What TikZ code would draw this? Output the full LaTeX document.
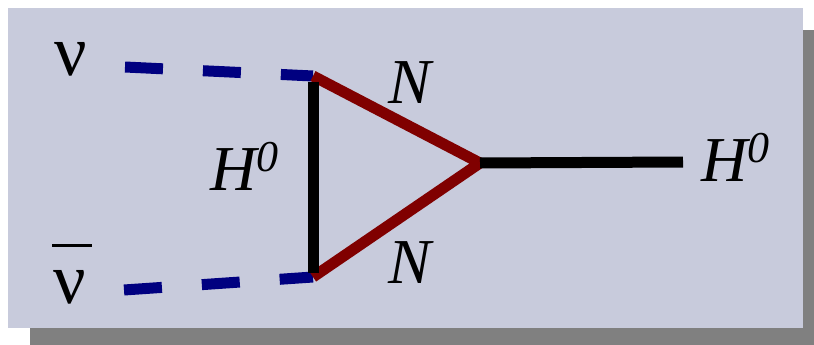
\documentclass[tikz,border=0pt]{standalone}
\usepackage{fontspec}
\setmainfont{Liberation Serif}
\definecolor{panel}{RGB}{200,203,220}
\definecolor{shadowgrey}{RGB}{128,128,128}
\definecolor{navyline}{RGB}{0,0,128}
\definecolor{darkredline}{RGB}{128,0,0}
\tikzset{
  lbl/.style={inner sep=0pt, anchor=base west, font=\fontsize{64}{64}\selectfont\itshape},
  greek/.style={inner sep=0pt, anchor=base west, font=\fontsize{72}{72}\selectfont},
  scalar/.style={draw=navyline, line width=11pt, dash pattern=on 38pt off 40pt},
  heavy/.style={draw=darkredline, line width=11pt, line join=miter},
  higgs/.style={draw=black, line width=11pt}
}
\newcommand{\hzero}{H\raisebox{19pt}{\fontsize{44}{44}\selectfont 0}}
\begin{document}
\begin{tikzpicture}[x=1pt,y=-1pt]
\useasboundingbox (0,0) rectangle (814,345);
\fill[shadowgrey] (30,30) rectangle (814,345);
\fill[panel] (8,8) rectangle (803,328);
% vertices
\coordinate (l1) at (125,67);
\coordinate (l2) at (124,290);
\coordinate (a) at (313,76);
\coordinate (b) at (313,277);
\coordinate (c) at (480,163);
\coordinate (e) at (683,162);
\coordinate (a2) at (313,82);
\coordinate (b2) at (313,273);
% lines
\draw[scalar] (l1) -- (a);
\draw[scalar] (l2) -- (b);
\draw[heavy] (a) -- (c) -- (b);
\draw[higgs] (a2) -- (b2);
\draw[higgs] (c) -- (e);
% labels
\node[greek] (nu1) at (54,76) {ν};
\node[greek] (nu2) at (53,303) {\makebox[0pt][l]{\hspace{-1pt}\raisebox{56pt}{\rule{40pt}{3.5pt}}}ν};
\node[lbl] (hl) at (210,190) {\hzero};
\node[lbl] (n1) at (388,103) {N};
\node[lbl] (n2) at (388,283) {N};
\node[lbl] (hr) at (701,181) {\hzero};
\end{tikzpicture}
\end{document}
